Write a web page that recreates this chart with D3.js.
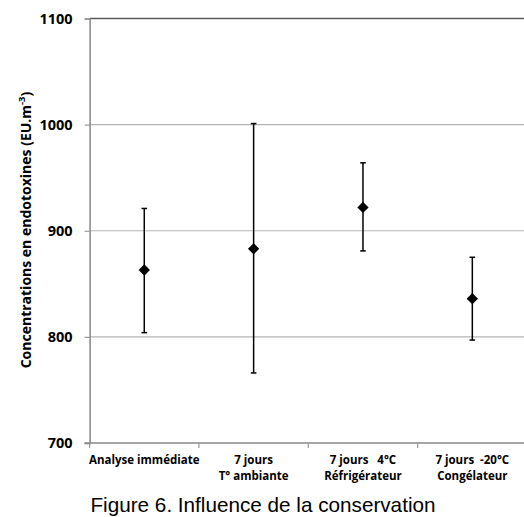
<!DOCTYPE html>
<html>
<head>
<meta charset="utf-8">
<script src="https://cdn.jsdelivr.net/npm/d3@7"></script>
<style>
  body { margin: 0; background: #fff; }
  svg { display: block; }
  .tick text { font-family: "Open Sans", sans-serif; font-weight: bold; }
</style>
</head>
<body>
<div id="chart"></div>
<script>
// data
var categories = [
  ["Analyse immédiate"],
  ["7 jours", "T° ambiante"],
  ["7 jours   4°C", "Réfrigérateur"],
  ["7 jours  -20°C", "Congélateur"]
];
var means = [863, 883, 922, 836];
var upper = [921, 1001, 964, 875];
var lower = [804, 766, 881, 797];
var yTicks = [700, 800, 900, 1000, 1100];

var width = 524, height = 517;
var plotLeft = 89.6, plotTop = 18.5, plotRight = 527, plotBottom = 443;

var svg = d3.select("#chart")
  .append("svg")
  .attr("width", width)
  .attr("height", height);

var x = d3.scaleBand()
  .domain(d3.range(categories.length))
  .range([plotLeft, plotRight])
  .padding(0);

var y = d3.scaleLinear()
  .domain([700, 1100])
  .range([plotBottom, plotTop]);

function cx(i) { return x(i) + x.bandwidth() / 2; }

// gridlines
svg.append("g")
  .selectAll("line")
  .data(yTicks.slice(1, -1))
  .enter()
  .append("line")
  .attr("x1", plotLeft)
  .attr("x2", plotRight)
  .attr("y1", function(d) { return y(d); })
  .attr("y2", function(d) { return y(d); })
  .attr("stroke", "#b4b4b4")
  .attr("stroke-width", 1.2);

// top border of plot area
svg.append("line")
  .attr("x1", plotLeft)
  .attr("x2", plotRight)
  .attr("y1", y(1100))
  .attr("y2", y(1100))
  .attr("stroke", "#5a5a5a")
  .attr("stroke-width", 1.5);

// y axis
var yAxis = svg.append("g")
  .attr("transform", "translate(" + plotLeft + ",0)")
  .call(d3.axisLeft(y).tickValues(yTicks).tickFormat(d3.format("d")).tickSize(5).tickPadding(12));
yAxis.select(".domain").attr("stroke", "#888").attr("stroke-width", 1.5);
yAxis.selectAll(".tick line").attr("stroke", "#999").attr("stroke-width", 1.2);
yAxis.selectAll(".tick text")
  .attr("font-size", 14.5)
  .attr("fill", "#000");

// x axis, ticks between categories
var xAxis = svg.append("g")
  .attr("transform", "translate(0," + plotBottom + ")");
xAxis.append("line")
  .attr("x1", plotLeft - 5)
  .attr("x2", plotRight)
  .attr("stroke", "#888")
  .attr("stroke-width", 1.5);
xAxis.selectAll("line.sep")
  .data(d3.range(categories.length))
  .enter()
  .append("line")
  .attr("class", "sep")
  .attr("x1", function(d) { return x(d); })
  .attr("x2", function(d) { return x(d); })
  .attr("y1", 0)
  .attr("y2", 5)
  .attr("stroke", "#999")
  .attr("stroke-width", 1.2);

var labels = xAxis.selectAll("text.cat")
  .data(categories)
  .enter()
  .append("text")
  .attr("class", "cat")
  .attr("text-anchor", "middle")
  .attr("font-family", "'Open Sans', sans-serif")
  .attr("font-weight", "bold")
  .attr("font-size", 11.5)
  .attr("fill", "#000")
  .attr("xml:space", "preserve")
  .attr("x", function(d, i) { return cx(i); });
labels.selectAll("tspan")
  .data(function(d) { return d; })
  .enter()
  .append("tspan")
  .attr("x", function() { return d3.select(this.parentNode).attr("x"); })
  .attr("y", function(d, j) { return 21 + j * 16; })
  .text(function(d) { return d; });

// error bars
var bars = svg.append("g");
bars.selectAll("line.err")
  .data(means)
  .enter()
  .append("line")
  .attr("class", "err")
  .attr("x1", function(d, i) { return cx(i); })
  .attr("x2", function(d, i) { return cx(i); })
  .attr("y1", function(d, i) { return y(upper[i]); })
  .attr("y2", function(d, i) { return y(lower[i]); })
  .attr("stroke", "#000")
  .attr("stroke-width", 1.5);
[upper, lower].forEach(function(arr) {
  bars.append("g")
    .selectAll("line")
    .data(arr)
    .enter()
    .append("line")
    .attr("x1", function(d, i) { return cx(i) - 2.8; })
    .attr("x2", function(d, i) { return cx(i) + 2.8; })
    .attr("y1", function(d) { return y(d); })
    .attr("y2", function(d) { return y(d); })
    .attr("stroke", "#000")
    .attr("stroke-width", 1.5);
});

// diamonds
svg.append("g")
  .selectAll("path")
  .data(means)
  .enter()
  .append("path")
  .attr("d", d3.symbol().type(d3.symbolSquare).size(64))
  .attr("transform", function(d, i) {
    return "translate(" + cx(i) + "," + y(d) + ") rotate(45)";
  })
  .attr("fill", "#000");

// y axis title
var yt = svg.append("text")
  .attr("transform", "translate(31," + 230 + ") rotate(-90)")
  .attr("text-anchor", "middle")
  .attr("font-family", "'Open Sans', sans-serif")
  .attr("font-weight", "bold")
  .attr("font-size", 14)
  .attr("fill", "#000");
yt.append("tspan").text("Concentrations en endotoxines (EU.m");
yt.append("tspan").attr("dy", -6).attr("font-size", 9.5).text("-3");
yt.append("tspan").attr("dy", 6).text(")");

// caption
svg.append("text")
  .attr("x", 263)
  .attr("y", 512)
  .attr("text-anchor", "middle")
  .attr("font-family", "'Liberation Sans', Arial, sans-serif")
  .attr("font-size", 20.7)
  .attr("fill", "#000")
  .text("Figure 6. Influence de la conservation");
</script>
</body>
</html>
